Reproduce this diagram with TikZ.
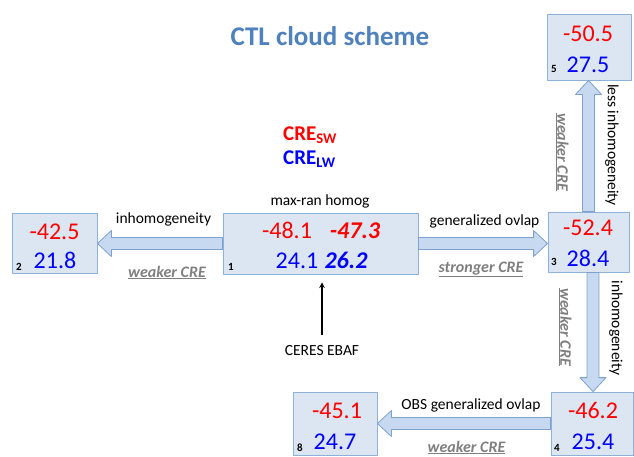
\documentclass[tikz,border=0pt]{standalone}
\usepackage{fontspec}
\setmainfont{Carlito}
\usetikzlibrary{arrows,calc}
\definecolor{boxfill}{HTML}{DCE6F2}
\definecolor{boxline}{HTML}{8EB1D9}
\definecolor{arrfill}{HTML}{C6D9F1}
\definecolor{arrline}{HTML}{7EA2CF}
\definecolor{titleblue}{HTML}{4F81BD}
\definecolor{swred}{HTML}{FF0000}
\definecolor{lwblue}{HTML}{0000FF}
\definecolor{notegray}{HTML}{7F7F7F}
\newcommand \blockarrow[2]
{
\coordinate (h) at ($(#2)!14pt!(#1)$);
\draw[fat] ($(#1)!6pt!90:(#2)$)--($(h)!6pt!90:(#2)$)--($(h)!13pt!90:(#2)$)--(#2)
  --($(h)!13pt!-90:(#2)$)--($(h)!6pt!-90:(#2)$)--($(#1)!6pt!-90:(#2)$)--cycle;
}

\begin{document}
\begin{tikzpicture}[x=1pt, y=-1pt, line join=round,
  box/.style={draw=boxline, fill=boxfill, inner sep=0, line width=0.8pt},
  fat/.style={draw=arrline, fill=arrfill, line width=0.8pt},
  sw/.style={text=swred, font=\fontsize{24}{24}\selectfont, anchor=base, inner sep=0},
  lw/.style={text=lwblue, font=\fontsize{24}{24}\selectfont, anchor=base, inner sep=0},
  idx/.style={font=\bfseries\fontsize{11}{11}\selectfont, anchor=base, inner sep=0},
  note/.style={font=\fontsize{15.5}{15.5}\selectfont, anchor=base, inner sep=0},
  weak/.style={text=notegray, font=\bfseries\itshape\fontsize{16}{16}\selectfont, anchor=base, inner sep=0}]
\useasboundingbox (0,0) rectangle (634,456);
% title and legend
\node[text=titleblue, font=\bfseries\fontsize{27}{27}\selectfont, anchor=base, inner sep=0] (title) at (330,45) {CTL cloud scheme};
\node[text=swred, font=\bfseries\fontsize{21}{21}\selectfont, anchor=base west, inner sep=0] (cresw) at (283,140) {CRE\textsubscript{SW}};
\node[text=lwblue, font=\bfseries\fontsize{21}{21}\selectfont, anchor=base west, inner sep=0] (crelw) at (283,164) {CRE\textsubscript{LW}};
% boxes
\node[box, minimum width=195, minimum height=61] (b1) at (320.5,243.5) {};
\node[box, minimum width=85, minimum height=60] (b2) at (54.5,243) {};
\node[box, minimum width=81, minimum height=60] (b3) at (588.5,242) {};
\node[box, minimum width=82, minimum height=63] (b4) at (592,423.5) {};
\node[box, minimum width=84, minimum height=66] (b5) at (589,47) {};
\node[box, minimum width=84, minimum height=63] (b8) at (335,423.5) {};
% values
\node[sw] (sw1) at (287,238) {-48.1};
\node[sw, font=\bfseries\itshape\fontsize{24}{24}\selectfont] (sw1b) at (355,238) {-47.3};
\node[lw] (lw1) at (297,268) {24.1};
\node[lw, font=\bfseries\itshape\fontsize{24}{24}\selectfont] (lw1b) at (346,268) {26.2};
\node[idx] (i1) at (231,270) {1};
\node[sw] (sw2) at (54.5,239) {-42.5};
\node[lw] (lw2) at (55,268) {21.8};
\node[idx] (i2) at (19,270) {2};
\node[sw] (sw3) at (588,235) {-52.4};
\node[lw] (lw3) at (588,266) {28.4};
\node[idx] (i3) at (554,265) {3};
\node[sw] (sw5) at (588,41) {-50.5};
\node[lw] (lw5) at (588,72) {27.5};
\node[idx] (i5) at (554,72) {5};
\node[sw] (sw4) at (593,418) {-46.2};
\node[lw] (lw4) at (593,449) {25.4};
\node[idx] (i4) at (557,451) {4};
\node[sw] (sw8) at (337,418) {-45.1};
\node[lw] (lw8) at (335,449) {24.7};
\node[idx] (i8) at (300,451) {8};
% block arrows
\coordinate (t12) at (b1.west -| b2.east);
\coordinate (t13) at (b1.east -| b3.west);
\coordinate (t35) at (b3.north |- b5.south);
\coordinate (s34) at ([xshift=4.5pt]b3.south);
\coordinate (t34) at (s34 |- b4.north);
\coordinate (t48) at (b4.west -| b8.east);
\blockarrow{b1.west}{t12}
\blockarrow{b1.east}{t13}
\blockarrow{b3.north}{t35}
\blockarrow{s34}{t34}
\blockarrow{b4.west}{t48}
% arrow labels
\node[note] (l12) at (163.5,223) {inhomogeneity};
\node[weak] (w12) at (167,277) {\underline{weaker CRE}};
\node[note] (l1) at (320,205) {max-ran homog};
\node[note] (l13) at (484.5,225) {generalized ovlap};
\node[weak] (w13) at (481,272) {\underline{stronger CRE}};
\node[note] (l48) at (471,409) {OBS generalized ovlap};
\node[weak] (w48) at (466.5,452) {\underline{weaker CRE}};
\node[note, anchor=center, rotate=-90] (l35) at (612,145) {less inhomogeneity};
\node[weak, anchor=center, rotate=-90] (w35) at (562,152) {\underline{weaker CRE}};
\node[note, anchor=center, rotate=-90] (l34) at (616,328) {inhomogeneity};
\node[weak, anchor=center, rotate=-90] (w34) at (565,327) {\underline{weaker CRE}};
% observations
\node[note] (ceres) at (322,355) {CERES EBAF};
\draw[line width=1.5pt, -stealth, shorten <=10pt, shorten >=8pt] (ceres.north) -- (ceres.north |- b1.south);
\end{tikzpicture}
\end{document}
